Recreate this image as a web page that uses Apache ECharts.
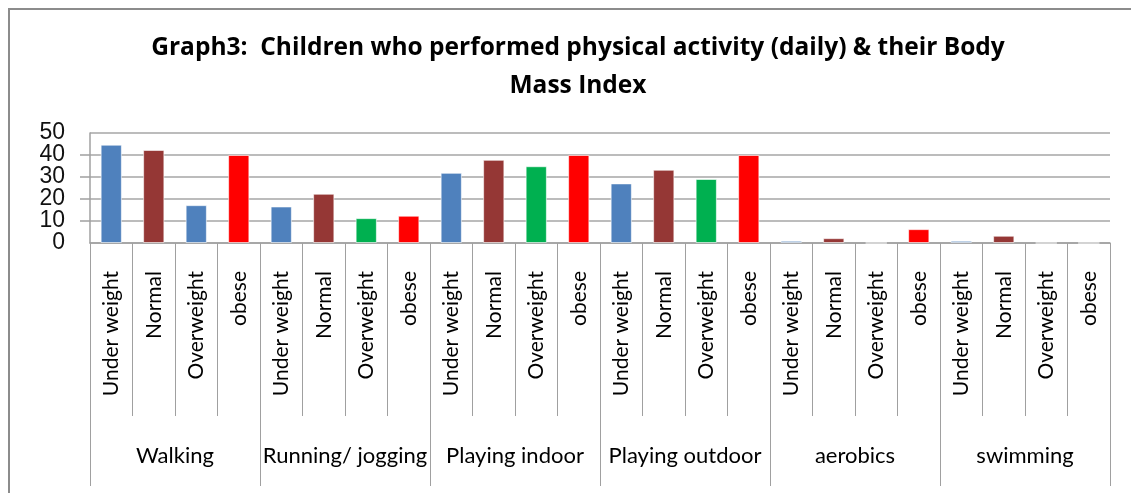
<!DOCTYPE html>
<html>
<head>
<meta charset="utf-8">
<script src="https://cdn.jsdelivr.net/npm/echarts@6/dist/echarts.min.js"></script>
<style>
  html, body { margin: 0; padding: 0; background: #fff; }
  #chart { width: 1131px; height: 493px; }
</style>
</head>
<body>
<div id="chart"></div>
<script>
// activity groups and BMI classes
const activities = ['Walking', 'Running/ jogging', 'Playing indoor', 'Playing outdoor', 'aerobics', 'swimming'];
const bmiClasses = ['Under weight', 'Normal', 'Overweight', 'obese'];

// % of children per activity, one value per BMI class
const walking = [44.7, 42.3, 17.2, 40];
const running = [16.6, 22.4, 11.3, 12.4];
const playingIndoor = [31.9, 37.8, 34.9, 40];
const playingOutdoor = [27.1, 33.3, 29.1, 40];
const aerobics = [1.0, 2.2, 0, 6.3];
const swimming = [1.0, 3.3, 0, 0];

const yTicks = [0, 10, 20, 30, 40, 50];

// colours
const classColors = ['#4F81BD', '#953735', '#00B050', '#FF0000'];

const groups = [walking, running, playingIndoor, playingOutdoor, aerobics, swimming];
const categories = [];
const barData = [];
groups.forEach((vals, g) => {
  vals.forEach((v, i) => {
    categories.push(bmiClasses[i]);
    // in the original the walking / overweight bar is blue
    const color = (g === 0 && i === 2) ? classColors[0] : classColors[i];
    barData.push({ value: v, itemStyle: { color: color } });
  });
});

const yMin = yTicks[0];
const yMax = yTicks[yTicks.length - 1];
const yLabelStyle = {
  margin: 25,
  hideOverlap: false,
  fontFamily: 'Liberation Sans',
  fontSize: 23,
  color: '#111'
};

const myChart = echarts.init(document.getElementById('chart'));
const option = {
  animation: false,
  title: {
    text: 'Graph3:  Children who performed physical activity (daily) & their Body\nMass Index',
    left: 573,
    top: 24,
    textAlign: 'center',
    textStyle: {
      fontFamily: 'Open Sans',
      fontWeight: 'bold',
      fontSize: 24.5,
      lineHeight: 38,
      color: '#000'
    }
  },
  graphic: [
    {
      type: 'rect',
      shape: { x: 9, y: 9, width: 1200, height: 600 },
      style: { fill: 'none', stroke: '#8c8c8c', lineWidth: 2 },
      silent: true
    }
  ],
  grid: {
    left: 90,
    right: 21,
    top: 133,
    bottom: 250
  },
  xAxis: [
    {
      type: 'category',
      data: categories,
      axisLine: { lineStyle: { color: '#a0a0a0', width: 1.5 } },
      axisTick: { show: true, interval: 0, length: 173, lineStyle: { color: '#a0a0a0' } },
      axisLabel: {
        interval: 0,
        rotate: 90,
        margin: 28,
        fontFamily: 'Lato',
        fontSize: 21,
        color: '#000'
      }
    },
    {
      type: 'category',
      data: activities,
      position: 'bottom',
      axisLine: { show: false },
      axisTick: { show: true, interval: 0, length: 243, lineStyle: { color: '#a0a0a0' } },
      axisLabel: {
        interval: 0,
        margin: 202,
        fontFamily: 'Lato',
        fontSize: 22,
        color: '#000'
      }
    }
  ],
  yAxis: [
    {
      // inner labels 10..40, grid lines, ticks
      type: 'value',
      position: 'left',
      min: yMin,
      max: yMax,
      interval: 10,
      axisLine: { show: true, lineStyle: { color: '#a0a0a0', width: 1.5 } },
      axisTick: { show: true, length: 10, lineStyle: { color: '#a0a0a0', width: 1.5 } },
      splitLine: { lineStyle: { color: '#a6a6a6', width: 1.5 } },
      axisLabel: Object.assign({ showMinLabel: false, showMaxLabel: false }, yLabelStyle)
    },
    {
      // only the 0 and 50 labels
      type: 'value',
      position: 'left',
      min: yMin,
      max: yMax,
      interval: 10,
      axisLine: { show: false },
      axisTick: { show: false },
      splitLine: { show: false },
      axisLabel: Object.assign({
        showMinLabel: true,
        showMaxLabel: true,
        formatter: (v) => (v === yMin || v === yMax) ? String(v) : ''
      }, yLabelStyle)
    }
  ],
  series: [
    {
      type: 'bar',
      xAxisIndex: 0,
      yAxisIndex: 0,
      barWidth: '50%',
      data: barData,
      itemStyle: { borderColor: 'rgba(255,255,255,0.6)', borderWidth: 1 }
    }
  ]
};
myChart.setOption(option);
</script>
</body>
</html>
